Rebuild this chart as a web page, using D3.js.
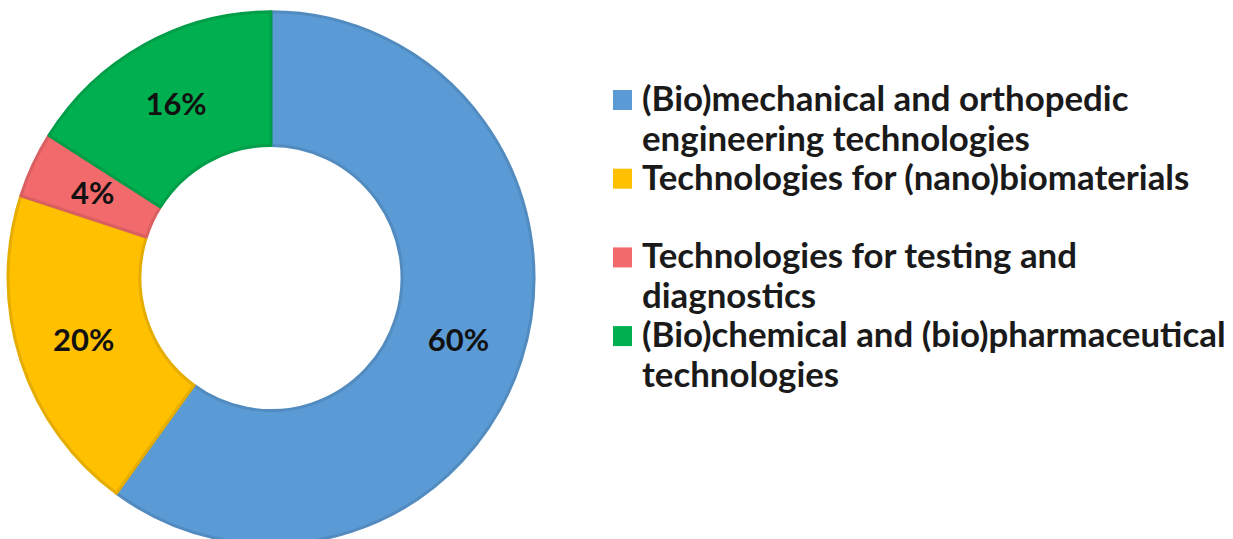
<!DOCTYPE html>
<html>
<head>
<meta charset="utf-8">
<title>Technology share donut</title>
<script src="https://cdn.jsdelivr.net/npm/d3@7"></script>
<style>
  body { margin: 0; background: #fff; }
  svg { display: block; font-family: Lato, "Open Sans", sans-serif; }
</style>
</head>
<body>
<div id="chart"></div>
<script>
// data
var categories = [
  "(Bio)mechanical and orthopedic engineering technologies",
  "Technologies for (nano)biomaterials",
  "Technologies for testing and diagnostics",
  "(Bio)chemical and (bio)pharmaceutical technologies"
];
// legend text as it wraps in the picture
var legendLines = [
  ["(Bio)mechanical and orthopedic", "engineering technologies"],
  ["Technologies for (nano)biomaterials"],
  ["Technologies for testing and", "diagnostics"],
  ["(Bio)chemical and (bio)pharmaceutical", "technologies"]
];
var values = [60, 20, 4, 16];
var colors = ["#5b9bd5", "#ffc000", "#f26a6c", "#00b050"];

var W = 1233, H = 539;
var cx = 271, cy = 278, outerR = 263, innerR = 131;

var svg = d3.select("#chart").append("svg")
  .attr("width", W)
  .attr("height", H);

var pie = d3.pie().sort(null).value(function(d) { return d; });
var arc = d3.arc().innerRadius(innerR).outerRadius(outerR);
var arcs = pie(values);

var g = svg.append("g")
  .attr("transform", "translate(" + cx + "," + cy + ") scale(1,1.012)");

g.selectAll("path.slice")
  .data(arcs).enter()
  .append("path")
    .attr("class", "slice")
    .attr("d", arc)
    .attr("fill", function(d, i) { return colors[i]; })
    .attr("stroke", function(d, i) { return d3.color(colors[i]).darker(0.3); })
    .attr("stroke-width", 3)
    .attr("stroke-linejoin", "round");

// percent labels at the centroid of each slice
g.selectAll("text.pct")
  .data(arcs).enter()
  .append("text")
    .attr("class", "pct")
    .attr("transform", function(d) { return "translate(" + arc.centroid(d) + ")"; })
    .attr("dy", "0.36em")
    .attr("text-anchor", "middle")
    .style("font-size", "31px")
    .style("font-weight", "bold")
    .attr("fill", "#111")
    .text(function(d) { return d.data + "%"; });

// legend
var legX = 613, legTextX = 642, legY0 = 111, legStep = 78.7, lineH = 40;
var legend = svg.append("g").attr("class", "legend");

var items = legend.selectAll("g.item")
  .data(categories).enter()
  .append("g")
    .attr("class", "item")
    .attr("transform", function(d, i) { return "translate(0," + (legY0 + i * legStep) + ")"; });

items.append("rect")
  .attr("x", legX)
  .attr("y", -21)
  .attr("width", 19)
  .attr("height", 20)
  .attr("fill", function(d, i) { return colors[i]; });

var txt = items.append("text")
  .attr("x", legTextX)
  .style("font-weight", "bold")
  .style("font-size", "30px")
  .attr("fill", "#1a1a1a");

txt.selectAll("tspan")
  .data(function(d, i) { return legendLines[i]; }).enter()
  .append("tspan")
    .attr("x", legTextX)
    .attr("y", function(d, j) { return j * lineH; })
    .text(function(d) { return d; });

// fit the widest legend line to the width it has in the picture (642 -> 1226)
var widest = 0;
txt.selectAll("tspan").each(function() {
  widest = Math.max(widest, this.getComputedTextLength());
});
var fs = 30 * 584 / widest;
txt.style("font-size", fs + "px");
</script>
</body>
</html>
